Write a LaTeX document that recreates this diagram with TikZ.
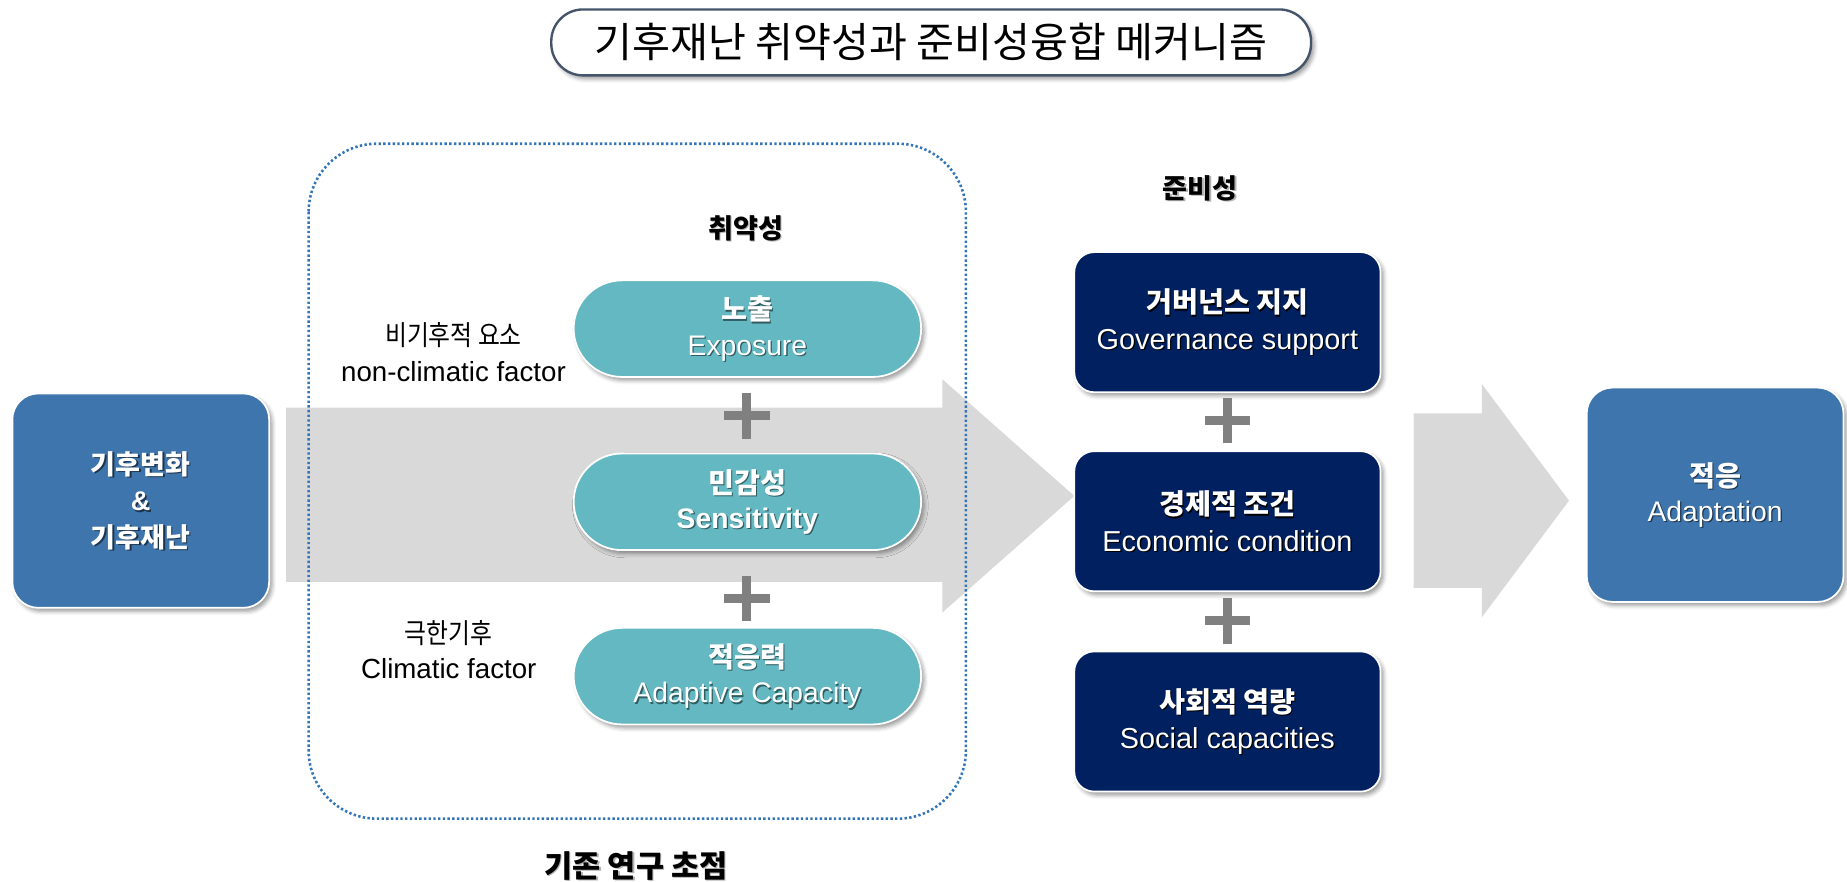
\documentclass[tikz,border=0pt]{standalone}
\usepackage{fontspec}
\setmainfont{Liberation Sans}
\newfontfamily\kr{Noto Sans CJK KR}
\newfontfamily\krnarrow[FakeStretch=0.86]{Noto Sans CJK KR}
\usetikzlibrary{shadows.blur,shapes.misc}

\definecolor{steelfill}{RGB}{62,117,172}
\definecolor{pillfill}{RGB}{99,184,194}
\definecolor{navyfill}{RGB}{0,32,96}
\definecolor{arrowgray}{RGB}{217,217,217}
\definecolor{plusgray}{RGB}{128,128,128}
\definecolor{dotblue}{RGB}{52,117,184}
\definecolor{titleline}{RGB}{68,84,106}
\colorlet{shcol}{black}

% text with a small dark offset copy behind it
\newcommand\shtext[1]{\leavevmode\rlap{\hspace{1.1pt}\raisebox{-1.1pt}[0pt][0pt]{\textcolor{shcol}{#1}}}#1}

\tikzset{
  softshadow/.style={blur shadow={shadow xshift=2.5pt,shadow yshift=-3pt,
      shadow blur radius=3.5pt,shadow opacity=40}},
  bluebox/.style={draw=white, line width=1.5pt, fill=steelfill, rounded corners=22pt,
      minimum width=218pt, minimum height=182pt, inner sep=0pt, align=center,
      text=white, font=\fontsize{23}{31}\selectfont, softshadow,
      execute at begin node={\colorlet{shcol}{steelfill!45!black}}},
  pillbox/.style={rounded rectangle, draw=white, line width=1.5pt, fill=pillfill,
      minimum width=295pt, minimum height=82pt, inner sep=0pt, align=center,
      text=white, font=\fontsize{24}{30}\selectfont, softshadow,
      execute at begin node={\colorlet{shcol}{pillfill!50!black}}},
  navybox/.style={draw=white, line width=1.5pt, fill=navyfill, rounded corners=17pt,
      minimum width=260pt, minimum height=119pt, inner sep=0pt, align=center,
      text=white, font=\fontsize{24.5}{31}\selectfont, softshadow,
      execute at begin node={\colorlet{shcol}{black}}},
  plusmark/.style={cross out, draw=plusgray, line width=7.5pt, minimum size=19.8pt,
      inner sep=0pt, rotate=45},
  sidelabel/.style={align=center, text=black, inner sep=0pt,
      font=\fontsize{23.5}{30}\selectfont},
  heading/.style={text=black, inner sep=0pt, font=\kr\bfseries\fontsize{23}{28}\selectfont,
      execute at begin node={\colorlet{shcol}{black!30}}},
  titlebox/.style={draw=titleline, line width=2pt, fill=white, rounded corners=27pt,
      minimum width=645pt, minimum height=56pt, inner sep=0pt,
      font=\kr\fontsize{35}{40}\selectfont, softshadow},
  bigarrow/.style={fill=arrowgray},
  focusframe/.style={draw=dotblue, line width=2.2pt, dash pattern=on 2pt off 2pt,
      rounded corners=58pt}
}

\begin{document}
\begin{tikzpicture}[x=1pt,y=-1pt]
\useasboundingbox (0,0) rectangle (1568,748);

% title
\node[titlebox] (title) at (790.5,36) {기후재난 취약성과 준비성융합 메커니즘};

% broad grey arrows
\fill[bigarrow] (243,346) -- (800,346) -- (800,322) -- (912,421) -- (800,520)
  -- (800,494) -- (243,494) -- cycle;
\fill[bigarrow] (1200,351) -- (1258,351) -- (1258,326) -- (1332,425) -- (1258,524)
  -- (1258,499) -- (1200,499) -- cycle;

% frame of the vulnerability components
\draw[focusframe] (262,122) rectangle (820,695);

% driver and outcome
\node[bluebox] (driver) at (119.5,425)
  {\shtext{\kr\bfseries 기후변화}\\ \shtext{\bfseries\&}\\ \shtext{\kr\bfseries 기후재난}};
\node[bluebox, font=\fontsize{24}{30}\selectfont] (adapt) at (1456,420)
  {\shtext{\kr\bfseries 적응}\\ \shtext{Adaptation}};

% vulnerability
\node[heading] (vul) at (633,194) {\shtext{취약성}};
\node[pillbox] (expo) at (634.5,279) {\shtext{\kr\bfseries 노출}\\ \shtext{Exposure}};
\node[plusmark] (plusA) at (634,353) {};
\node[pillbox] (sens) at (634.5,426) {\shtext{\kr\bfseries 민감성}\\ \shtext{\bfseries Sensitivity}};
\node[plusmark] (plusB) at (634,508) {};
\node[pillbox] (adcap) at (634.5,574) {\shtext{\kr\bfseries 적응력}\\ \shtext{Adaptive Capacity}};

\node[sidelabel] (nonclim) at (385,299) {{\krnarrow 비기후적 요소}\\ non-climatic factor};
\node[sidelabel] (clim) at (381,551.5) {{\krnarrow 극한기후}\\ Climatic factor};
\node[heading, font=\kr\bfseries\fontsize{26}{30}\selectfont] (focus) at (540,735) {\shtext{기존 연구 초점}};

% preparedness
\node[heading] (prep) at (1019,160) {\shtext{준비성}};
\node[navybox] (gov) at (1042,273.5) {\shtext{\kr\bfseries\fontsize{24}{31}\selectfont 거버넌스 지지}\\ \shtext{Governance support}};
\node[plusmark] (plusC) at (1042,357) {};
\node[navybox] (econ) at (1042,442.5) {\shtext{\kr\bfseries\fontsize{24}{31}\selectfont 경제적 조건}\\ \shtext{Economic condition}};
\node[plusmark] (plusD) at (1042,527) {};
\node[navybox] (soc) at (1042,612.5) {\shtext{\kr\bfseries\fontsize{24}{31}\selectfont 사회적 역량}\\ \shtext{Social capacities}};
\end{tikzpicture}
\end{document}
